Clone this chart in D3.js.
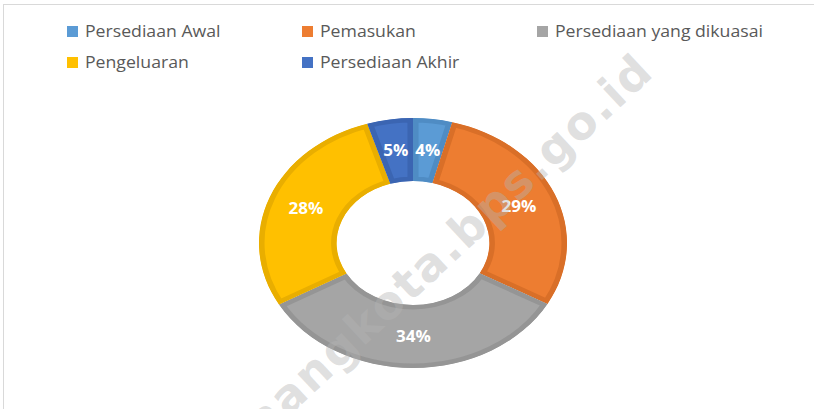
<!DOCTYPE html>
<html>
<head>
<meta charset="utf-8">
<script src="https://cdn.jsdelivr.net/npm/d3@7"></script>
<style>
  body { margin: 0; background: #fff; }
  svg { display: block; }
</style>
</head>
<body>
<svg id="chart" width="814" height="409"></svg>
<script>
// slice data, clockwise from the top
var categories = ["Persediaan Awal", "Pemasukan", "Persediaan yang dikuasai", "Pengeluaran", "Persediaan Akhir"];
var shares = [4.1, 29.0, 33.7, 28.4, 4.8];
var colors = ["#5b9bd5", "#ed7d31", "#a5a5a5", "#ffc000", "#4472c4"];
var edgeColors = ["#4f8cc4", "#d96f28", "#959595", "#e9ae00", "#3b65b2"];
var watermark = "pangkalpinangkota.bps.go.id";

var svg = d3.select("#chart");
var W = 814, H = 409;

// chart frame
svg.append("rect")
    .attr("x", 3.5).attr("y", 4.5)
    .attr("width", W + 10).attr("height", H + 10)
    .attr("fill", "#fff")
    .attr("stroke", "#d9d9d9");

// legend
var legendPos = [[67, 26], [302, 26], [537, 26], [67, 57], [302, 57]];
var legend = svg.append("g").selectAll("g")
    .data(categories)
    .enter().append("g")
    .attr("transform", function (d, i) {
        return "translate(" + legendPos[i][0] + "," + legendPos[i][1] + ")";
    });

legend.append("rect")
    .attr("width", 11).attr("height", 11)
    .attr("fill", function (d, i) { return colors[i]; });

// source image is stretched sideways, so the text is too
legend.append("text")
    .attr("transform", "translate(18,11) scale(1.14,1)")
    .attr("font-family", "'Open Sans', sans-serif")
    .attr("font-size", 15.5)
    .attr("fill", "#595959")
    .text(function (d) { return d; });

// donut: drawn as a circle, then stretched horizontally like the source
var R = 125, r0 = 62, sx = 1.232;
var cx = 413, cy = 243;

var pie = d3.pie().sort(null).value(function (d) { return d; });
var arcs = pie(shares);
var arc = d3.arc().innerRadius(r0).outerRadius(R);
var labelArc = d3.arc().innerRadius((R + r0) / 2).outerRadius((R + r0) / 2);

var defs = svg.append("defs");
defs.selectAll("clipPath")
    .data(arcs)
    .enter().append("clipPath")
    .attr("id", function (d, i) { return "clip" + i; })
    .append("path")
    .attr("d", arc);

var donut = svg.append("g")
    .attr("transform", "translate(" + cx + "," + cy + ") scale(" + sx + ",1)");

donut.selectAll("path.slice")
    .data(arcs)
    .enter().append("path")
    .attr("class", "slice")
    .attr("d", arc)
    .attr("fill", function (d, i) { return colors[i]; })
    .attr("stroke", function (d, i) { return edgeColors[i]; })
    .attr("stroke-width", 9)
    .attr("clip-path", function (d, i) { return "url(#clip" + i + ")"; });

// percentage labels
svg.append("g").selectAll("text")
    .data(arcs)
    .enter().append("text")
    .attr("transform", function (d) {
        var c = labelArc.centroid(d);
        return "translate(" + (cx + c[0] * sx) + "," + (cy + c[1]) + ") scale(1.1,1)";
    })
    .attr("dy", "0.36em")
    .attr("text-anchor", "middle")
    .attr("font-family", "'Open Sans', sans-serif")
    .attr("font-weight", "bold")
    .attr("font-size", 15.5)
    .attr("fill", "#fff")
    .text(function (d) { return Math.round(d.value) + "%"; });

// site watermark
svg.append("text")
    .attr("transform", "translate(656,74) rotate(-43)")
    .attr("text-anchor", "end")
    .attr("font-family", "'DejaVu Sans', sans-serif")
    .attr("font-weight", "bold")
    .attr("font-size", 46)
    .attr("letter-spacing", 2)
    .attr("fill", "#b4b4b4")
    .attr("fill-opacity", 0.42)
    .text(watermark);
</script>
</body>
</html>
